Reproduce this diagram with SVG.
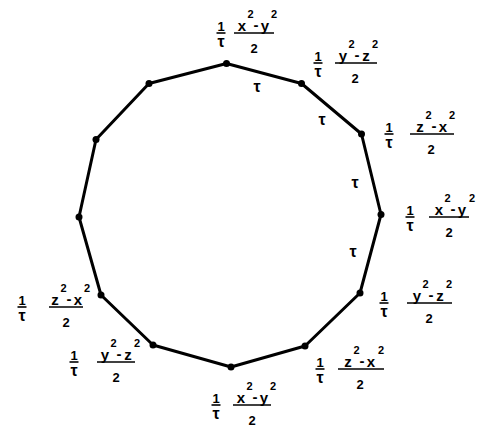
<svg xmlns="http://www.w3.org/2000/svg" width="482" height="427" viewBox="0 0 482 427">
<style>
text{font-family:"Liberation Sans",Arial,sans-serif;font-weight:bold;fill:#000;text-anchor:middle}
.n{font-size:13px}
.t{font-size:16px}
.l{font-size:15px}
.s{font-size:11px}
.bar{stroke:#000;stroke-width:1.6}
.edge{stroke:#000;stroke-width:3;stroke-linecap:round}
.dot{fill:#000}
</style>
<rect width="482" height="427" fill="#fff"/>
<g id="connectors">
<line class="edge" x1="226.5" y1="63.5" x2="301.5" y2="83.5"/>
<line class="edge" x1="301.5" y1="83.5" x2="361.5" y2="134"/>
<line class="edge" x1="361.5" y1="134" x2="381" y2="214.5"/>
<line class="edge" x1="381" y1="214.5" x2="360" y2="293"/>
<line class="edge" x1="360" y1="293" x2="305" y2="346"/>
<line class="edge" x1="305" y1="346" x2="231" y2="367"/>
<line class="edge" x1="231" y1="367" x2="153" y2="345"/>
<line class="edge" x1="153" y1="345" x2="101" y2="295"/>
<line class="edge" x1="101" y1="295" x2="79" y2="217"/>
<line class="edge" x1="79" y1="217" x2="96" y2="139.5"/>
<line class="edge" x1="96" y1="139.5" x2="149" y2="83.5"/>
<line class="edge" x1="149" y1="83.5" x2="226.5" y2="63.5"/>
<text class="t" x="257" y="92">τ</text>
<text class="t" x="322" y="125">τ</text>
<text class="t" x="355" y="188">τ</text>
<text class="t" x="353" y="257">τ</text>
</g>
<g id="v0"><circle class="dot" cx="226.5" cy="63.5" r="3.5"/>
<g transform="translate(221,33)"><text class="n" x="0" y="-2">1</text><line class="bar" x1="-4.5" y1="0" x2="4.5" y2="0"/><text class="t" x="0" y="14">τ</text>
<g transform="translate(13,0)"><line class="bar" x1="0" y1="0" x2="40" y2="0"/><text class="l" x="8" y="-2">x</text><text class="s" x="16.5" y="-15">2</text><text class="l" x="22" y="-3">-</text><text class="l" x="31" y="-2">y</text><text class="s" x="40" y="-15">2</text><text class="n" x="20" y="20">2</text></g></g></g>
<g id="v1"><circle class="dot" cx="301.5" cy="83.5" r="3.5"/>
<g transform="translate(318,63)"><text class="n" x="0" y="-2">1</text><line class="bar" x1="-4.5" y1="0" x2="4.5" y2="0"/><text class="t" x="0" y="14">τ</text>
<g transform="translate(17,0)"><line class="bar" x1="0" y1="0" x2="42" y2="0"/><text class="l" x="8" y="-2">y</text><text class="s" x="16.5" y="-15">2</text><text class="l" x="22" y="-3">-</text><text class="l" x="31" y="-2">z</text><text class="s" x="40" y="-15">2</text><text class="n" x="20" y="20">2</text></g></g></g>
<g id="v2"><circle class="dot" cx="361.5" cy="134" r="3.5"/>
<g transform="translate(389,134)"><text class="n" x="0" y="-2">1</text><line class="bar" x1="-4.5" y1="0" x2="4.5" y2="0"/><text class="t" x="0" y="14">τ</text>
<g transform="translate(21,0)"><line class="bar" x1="0" y1="0" x2="44" y2="0"/><text class="l" x="10" y="-2">z</text><text class="s" x="18.5" y="-15">2</text><text class="l" x="24" y="-3">-</text><text class="l" x="33" y="-2">x</text><text class="s" x="42" y="-15">2</text><text class="n" x="21" y="20">2</text></g></g></g>
<g id="v3"><circle class="dot" cx="381" cy="214.5" r="3.5"/>
<g transform="translate(410,217)"><text class="n" x="0" y="-2">1</text><line class="bar" x1="-4.5" y1="0" x2="4.5" y2="0"/><text class="t" x="0" y="14">τ</text>
<g transform="translate(19,0)"><line class="bar" x1="0" y1="0" x2="40" y2="0"/><text class="l" x="10" y="-2">x</text><text class="s" x="18.5" y="-15">2</text><text class="l" x="24" y="-3">-</text><text class="l" x="33" y="-2">y</text><text class="s" x="43" y="-15">2</text><text class="n" x="20" y="20">2</text></g></g></g>
<g id="v4"><circle class="dot" cx="360" cy="293" r="3.5"/>
<g transform="translate(384,303)"><text class="n" x="0" y="-2">1</text><line class="bar" x1="-4.5" y1="0" x2="4.5" y2="0"/><text class="t" x="0" y="14">τ</text>
<g transform="translate(23,0)"><line class="bar" x1="0" y1="0" x2="45" y2="0"/><text class="l" x="10" y="-2">y</text><text class="s" x="18.5" y="-15">2</text><text class="l" x="24" y="-3">-</text><text class="l" x="33" y="-2">z</text><text class="s" x="42" y="-15">2</text><text class="n" x="22" y="20">2</text></g></g></g>
<g id="v5"><circle class="dot" cx="305" cy="346" r="3.5"/>
<g transform="translate(320,369)"><text class="n" x="0" y="-2">1</text><line class="bar" x1="-4.5" y1="0" x2="4.5" y2="0"/><text class="t" x="0" y="14">τ</text>
<g transform="translate(18,0)"><line class="bar" x1="0" y1="0" x2="46" y2="0"/><text class="l" x="10" y="-2">z</text><text class="s" x="18.5" y="-15">2</text><text class="l" x="24" y="-3">-</text><text class="l" x="33" y="-2">x</text><text class="s" x="43" y="-15">2</text><text class="n" x="22" y="20">2</text></g></g></g>
<g id="v6"><circle class="dot" cx="231" cy="367" r="3.5"/>
<g transform="translate(216,405)"><text class="n" x="0" y="-2">1</text><line class="bar" x1="-4.5" y1="0" x2="4.5" y2="0"/><text class="t" x="0" y="14">τ</text>
<g transform="translate(17,0)"><line class="bar" x1="0" y1="0" x2="38" y2="0"/><text class="l" x="8" y="-2">x</text><text class="s" x="16.5" y="-15">2</text><text class="l" x="22" y="-3">-</text><text class="l" x="31" y="-2">y</text><text class="s" x="40" y="-15">2</text><text class="n" x="19" y="20">2</text></g></g></g>
<g id="v7"><circle class="dot" cx="153" cy="345" r="3.5"/>
<g transform="translate(74,362)"><text class="n" x="0" y="-2">1</text><line class="bar" x1="-4.5" y1="0" x2="4.5" y2="0"/><text class="t" x="0" y="14">τ</text>
<g transform="translate(23,0)"><line class="bar" x1="0" y1="0" x2="38" y2="0"/><text class="l" x="8" y="-2">y</text><text class="s" x="16.5" y="-15">2</text><text class="l" x="22" y="-3">-</text><text class="l" x="31" y="-2">z</text><text class="s" x="40" y="-15">2</text><text class="n" x="19" y="20">2</text></g></g></g>
<g id="v8"><circle class="dot" cx="101" cy="295" r="3.5"/>
<g transform="translate(22,307)"><text class="n" x="0" y="-2">1</text><line class="bar" x1="-4.5" y1="0" x2="4.5" y2="0"/><text class="t" x="0" y="14">τ</text>
<g transform="translate(27,0)"><line class="bar" x1="0" y1="0" x2="34" y2="0"/><text class="l" x="6" y="-2">z</text><text class="s" x="14.5" y="-15">2</text><text class="l" x="20" y="-3">-</text><text class="l" x="29" y="-2">x</text><text class="s" x="38" y="-15">2</text><text class="n" x="17" y="20">2</text></g></g></g>
<g id="v9"><circle class="dot" cx="79" cy="217" r="3.5"/></g>
<g id="v10"><circle class="dot" cx="96" cy="139.5" r="3.5"/></g>
<g id="v11"><circle class="dot" cx="149" cy="83.5" r="3.5"/></g>
</svg>
